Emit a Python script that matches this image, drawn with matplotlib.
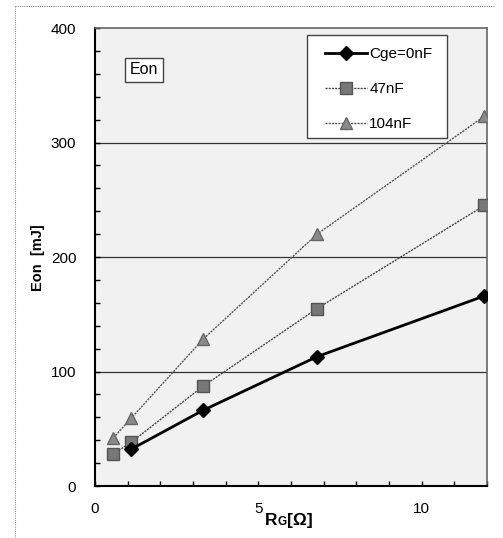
import matplotlib
matplotlib.use("Agg")
import matplotlib.pyplot as plt
from matplotlib.patches import Rectangle
from matplotlib.lines import Line2D

plt.rcParams['font.family'] = ['Liberation Sans', 'DejaVu Sans']

# Data
rg_0nf = [1.1, 3.3, 6.8, 11.92]
eon_0nf = [32, 66, 113, 166]
rg_47nf = [0.56, 1.1, 3.3, 6.8, 11.92]
eon_47nf = [28, 38, 87, 155, 245]
rg_104nf = [0.56, 1.1, 3.3, 6.8, 11.92]
eon_104nf = [42, 59, 128, 220, 323]
labels = ["Cge=0nF", "47nF", "104nF"]
x_ticklabels = ["0", "5", "10"]
y_ticklabels = ["0", "100", "200", "300", "400"]

W, H = 503, 538
fig = plt.figure(figsize=(W / 100, H / 100), dpi=100)
fig.patch.set_facecolor('white')

def fx(px):
    return px / W

def fy(py):
    return 1 - py / H

AX_L, AX_R, AX_T, AX_B = 95, 487, 28, 486
ax = fig.add_axes([fx(AX_L), fy(AX_B), (AX_R - AX_L) / W, (AX_B - AX_T) / H])
ax.set_facecolor('#f1f1f1')

ax.set_xlim(0, 12)
ax.set_ylim(0, 400)

for yv in [100, 200, 300]:
    ax.axhline(yv, color='#333333', lw=0.9, zorder=1)

l104, = ax.plot(rg_104nf, eon_104nf, color='#555555', lw=1.0, ls=(0, (1.5, 0.8)),
                marker='^', ms=8, mfc='#8a8a8a', mec='#666666', zorder=3)
l47, = ax.plot(rg_47nf, eon_47nf, color='#444444', lw=1.0, ls=(0, (1.5, 0.8)),
               marker='s', ms=8.5, mfc='#777777', mec='#555555', zorder=3)
l0, = ax.plot(rg_0nf, eon_0nf, color='black', lw=2.0, ls='-',
              marker='D', ms=7, mfc='black', mec='black', zorder=4)

ax.set_xticks([0, 5, 10])
ax.set_xticklabels(x_ticklabels)
ax.set_xticks(range(0, 13), minor=True)
ax.set_yticks([0, 100, 200, 300, 400])
ax.set_yticklabels(y_ticklabels)
ax.set_yticks(range(0, 401, 20), minor=True)
ax.tick_params(axis='both', which='both', direction='in', labelsize=11, color='black',
               length=3.5, width=1)
ax.tick_params(axis='y', which='major', pad=13.5)
ax.tick_params(axis='x', which='major', pad=11.5)

for s in ['left', 'bottom']:
    ax.spines[s].set_color('black')
    ax.spines[s].set_linewidth(1.5)
for s in ['top', 'right']:
    ax.spines[s].set_color('#666666')
    ax.spines[s].set_linewidth(1.2)
    ax.spines[s].set_linestyle((0, (1, 1)))

# axis titles
fig.text(fx(38), fy(258), "Eon  [mJ]", rotation=90, fontsize=10.5, fontweight='bold',
         ha='center', va='center')
fig.text(fx(265), fy(525), "R", fontsize=12.5, fontweight='bold', ha='left', va='baseline')
fig.text(fx(277.5), fy(525), "G", fontsize=8.5, fontweight='bold', ha='left', va='baseline')
fig.text(fx(287), fy(525), "[Ω]", fontsize=12.5, fontweight='bold', ha='left', va='baseline')

# legend box (drawn inside the axes, above the data lines)
box = Rectangle((fx(307), fy(138)), (447 - 307) / W, (138 - 35) / H,
                transform=fig.transFigure, fc='white', ec='#444444',
                lw=1.0, zorder=4.5, clip_on=False)
ax.add_patch(box)
leg = ax.legend([l0, l47, l104], labels,
                loc='upper left', bbox_to_anchor=(fx(325), fy(47)),
                bbox_transform=fig.transFigure, borderaxespad=0, borderpad=0,
                fontsize=11, frameon=False, labelspacing=1.38,
                handlelength=2.75, handletextpad=0.15)
leg.set_zorder(5)

ax.text(fx(144), fy(70), "Eon", transform=fig.transFigure, fontsize=11.5,
        ha='center', va='center', zorder=6,
        bbox=dict(boxstyle='square,pad=0.3', fc='white', ec='#444444', lw=1.0))

# page border
fig.add_artist(Line2D([fx(15), fx(15)], [fy(6), fy(538)], color='#999999', lw=0.8,
                      ls=(0, (1, 1))))
fig.add_artist(Line2D([fx(15), fx(495)], [fy(6), fy(6)], color='#888888', lw=0.8,
                      ls=(0, (1, 1))))

fig.savefig("out.png", dpi=100)
